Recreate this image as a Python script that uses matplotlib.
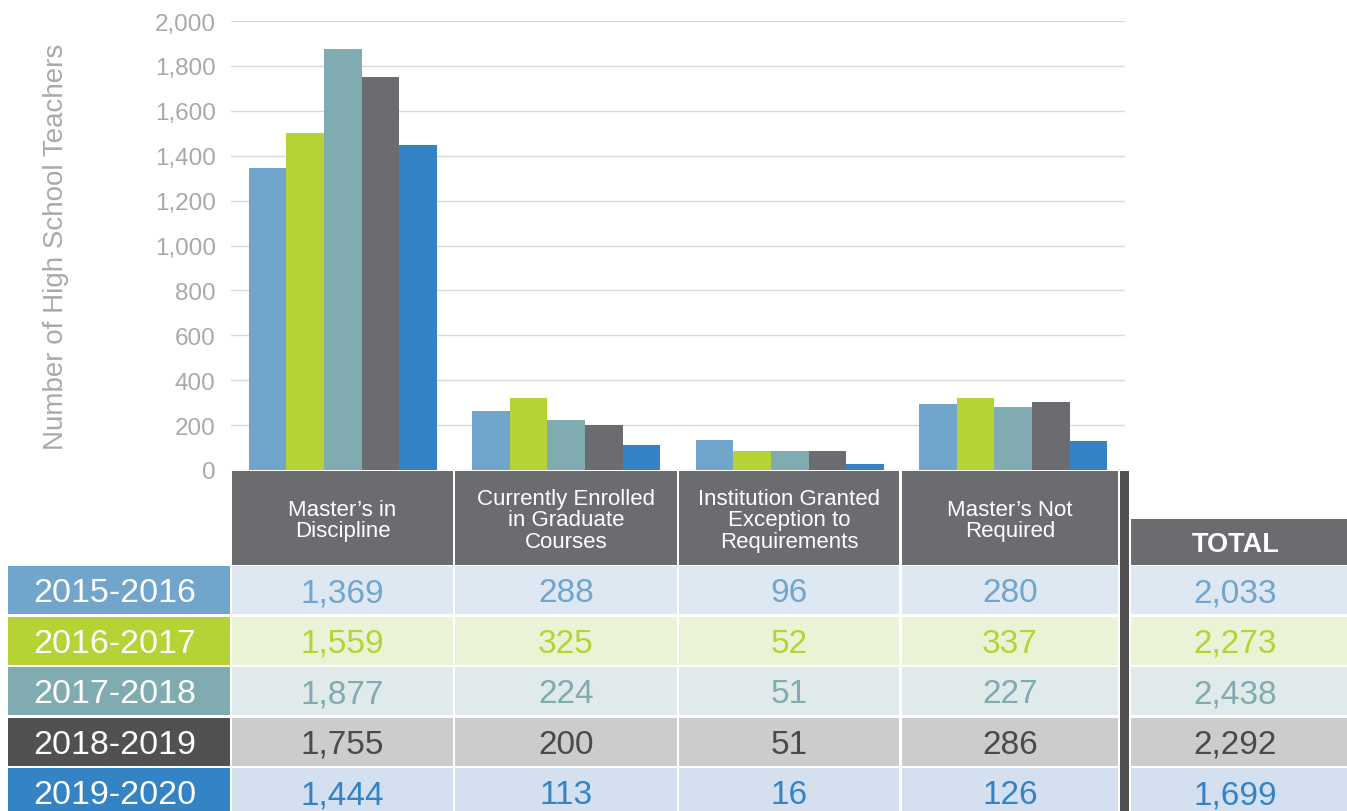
import matplotlib.pyplot as plt
from matplotlib.patches import Rectangle

# donnees
categories = ["Master\u2019s in\nDiscipline", "Currently Enrolled\nin Graduate\nCourses",
              "Institution Granted\nException to\nRequirements", "Master\u2019s Not\nRequired"]
years = ["2015-2016", "2016-2017", "2017-2018", "2018-2019", "2019-2020"]

bars_2015 = [1345, 263, 134, 294]
bars_2016 = [1501, 321, 85, 321]
bars_2017 = [1875, 223, 85, 281]
bars_2018 = [1750, 200, 85, 303]
bars_2019 = [1448, 111, 27, 129]
bar_values = [bars_2015, bars_2016, bars_2017, bars_2018, bars_2019]

# valeurs du tableau
table_2015 = ["1,369", "288", "96", "280"]
table_2016 = ["1,559", "325", "52", "337"]
table_2017 = ["1,877", "224", "51", "227"]
table_2018 = ["1,755", "200", "51", "286"]
table_2019 = ["1,444", "113", "16", "126"]
table_values = [table_2015, table_2016, table_2017, table_2018, table_2019]
totals = ["2,033", "2,273", "2,438", "2,292", "1,699"]

bar_colors = ["#71a5cc", "#b5d334", "#80abb0", "#6b6c70", "#3483c5"]
label_colors = ["#71a5cc", "#b5d334", "#80abb0", "#525051", "#3483c5"]
text_colors = ["#71a5cc", "#b5d334", "#80abb0", "#4a4a4a", "#3483c5"]
cell_colors = ["#dde8f3", "#ebf3d6", "#e0eaea", "#cdccca", "#d4dff0"]
header_gray = "#6b6c70"
tick_gray = "#a7a9ac"

plt.rcParams['font.family'] = ['Liberation Sans', 'DejaVu Sans']

W, H = 1347, 812
fig = plt.figure(figsize=(W / 100, H / 100), dpi=100)

# graphique en barres
ax = fig.add_axes([231 / W, 1 - 471 / H, (1125 - 231) / W, (471 - 22) / H])
n = len(years)
bw = 0.168
for i in range(n):
    xs = [c + (i - (n - 1) / 2) * bw for c in range(len(categories))]
    ax.bar(xs, bar_values[i], width=bw, color=bar_colors[i], linewidth=0, zorder=3)

ax.set_xlim(-0.5, len(categories) - 0.5)
ax.set_ylim(0, 2000)
ax.set_yticks(range(0, 2001, 200))
ax.set_yticklabels([f"{v:,}" for v in range(0, 2001, 200)])
ax.tick_params(axis='y', length=0, pad=11, labelsize=17.5, labelcolor=tick_gray)
ax.set_xticks([])
ax.grid(axis='y', color="#d9d9d9", linewidth=1, zorder=0)
for s in ax.spines.values():
    s.set_visible(False)
ax.set_ylabel("Number of High School Teachers", fontsize=20, color=tick_gray)
ax.yaxis.set_label_coords(-(231 - 69) / (1125 - 231), 0.5)

# tableau dessine en coordonnees pixels
tb = fig.add_axes([0, 0, 1, 1])
tb.set_xlim(0, W)
tb.set_ylim(H, 0)
tb.axis('off')
tb.patch.set_visible(False)

col_x = [(232, 453), (455, 677), (679, 899), (902, 1118)]
row_top = [567, 617.5, 668, 718.5, 769]
row_h = 48

# en-tetes
for (x0, x1), cat in zip(col_x, categories):
    tb.add_patch(Rectangle((x0, 472), x1 - x0, 566 - 472, color=header_gray, lw=0))
    tb.text((x0 + x1) / 2, 521, cat, ha='center', va='center', color='white',
            fontsize=16, linespacing=1.05)
tb.add_patch(Rectangle((1131, 520), W - 1131, 46, color=header_gray, lw=0))
tb.text(1236, 545, "TOTAL", ha='center', va='center', color='white',
        fontsize=19.5, fontweight='bold')

# separateur vertical
tb.add_patch(Rectangle((1120, 472), 9, H - 472, color="#525051", lw=0))

# lignes de donnees
for i in range(n):
    y0 = row_top[i]
    yc = y0 + row_h / 2 + 3
    tb.add_patch(Rectangle((8, y0), 222, row_h, color=label_colors[i], lw=0))
    tb.text(115, yc, years[i], ha='center', va='center', color='white', fontsize=24.5)
    for (x0, x1), v in zip(col_x, table_values[i]):
        tb.add_patch(Rectangle((x0, y0), x1 - x0, row_h, color=cell_colors[i], lw=0))
        tb.text((x0 + x1) / 2, yc, v, ha='center', va='center', color=text_colors[i], fontsize=24)
    tb.add_patch(Rectangle((1131, y0), W - 1131, row_h, color=cell_colors[i], lw=0))
    tb.text(1235, yc, totals[i], ha='center', va='center', color=text_colors[i], fontsize=24)

fig.savefig("out.png", dpi=100)
